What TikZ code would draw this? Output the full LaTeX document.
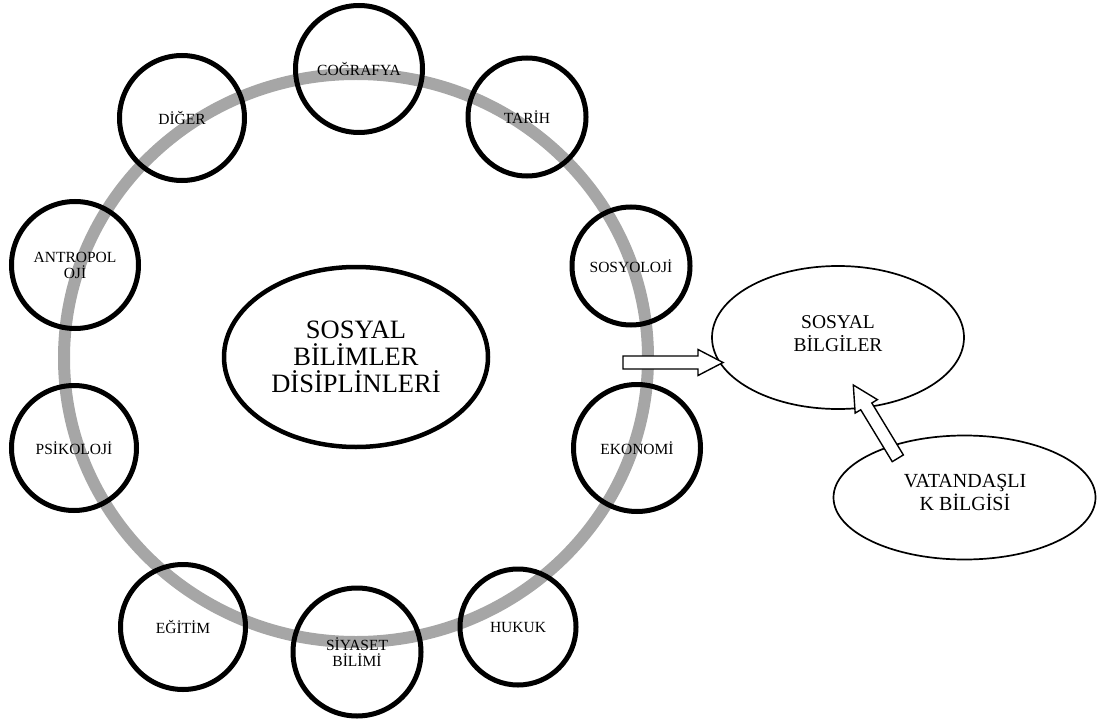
\documentclass[tikz,border=0pt]{standalone}
\usepackage{fontspec}
\setmainfont{Liberation Serif}
\usetikzlibrary{calc,shapes.geometric}
\definecolor{ringgray}{RGB}{166,166,166}

% block arrow from #1 (tail) to #2 (tip)
\newcommand\blkarrow[2]{%
  \coordinate (hb) at ($(#2)!25pt!(#1)$);
  \draw[blockarrow]
    ($(#1)!6.5pt!90:(#2)$) -- ($(hb)!6.5pt!-90:(#1)$) -- ($(hb)!13pt!-90:(#1)$)
    -- (#2) -- ($(hb)!13pt!90:(#1)$) -- ($(hb)!6.5pt!90:(#1)$)
    -- ($(#1)!6.5pt!-90:(#2)$) -- cycle;}

\begin{document}
\begin{tikzpicture}[x=1pt,y=-1pt,
  ring/.style={draw=ringgray, line width=12pt},
  disc/.style={circle, draw, line width=5pt, minimum size=#1, inner sep=0pt,
    align=center, font=\fontsize{15.5}{16}\selectfont},
  core/.style={ellipse, draw, line width=4.5pt, inner sep=0pt, align=center,
    font=\fontsize{26.5}{27}\selectfont},
  oval/.style={ellipse, draw, line width=1.7pt, inner sep=0pt},
  bigtext/.style={align=center, inner sep=0pt, font=\fontsize{20}{23}\selectfont},
  blockarrow/.style={draw, fill=white, line width=1.4pt, line join=miter}]
\useasboundingbox (0,0) rectangle (1097,722);

% grey ring linking the disciplines
\draw[ring] (356,358) ellipse [x radius=292, y radius=284];

% central ellipse
\node[core, minimum width=264, minimum height=180] (core) at (356,357)
  {SOSYAL\\BİLİMLER\\DİSİPLİNLERİ};

% disciplines around the ring
\node[disc=127] (cog) at (359,69)  {COĞRAFYA};
\node[disc=118] (tar) at (527,117) {TARİH};
\node[disc=118] (sos) at (631,266) {SOSYOLOJİ};
\node[disc=127] (eko) at (637,448) {EKONOMİ};
\node[disc=116] (huk) at (518,627) {HUKUK};
\node[disc=128] (siy) at (357,652) {SİYASET\\BİLİMİ};
\node[disc=125] (egi) at (183,627) {EĞİTİM};
\node[disc=125] (psi) at (74,448)  {PSİKOLOJİ};
\node[disc=127] (ant) at (75,265)  {ANTROPOL\\OJİ};
\node[disc=125] (dig) at (182,118) {DİĞER};

% social studies and citizenship
\node[oval, minimum width=252, minimum height=143] (bil) at (838,337.5) {};
\node[bigtext, font=\fontsize{19.5}{23}\selectfont] (biltext) at (838,334) {SOSYAL\\BİLGİLER};
\node[oval, minimum width=262, minimum height=124] (vat) at (964.5,497.5) {};
\node[bigtext] (vattext) at (965,492) {VATANDAŞLI\\K BİLGİSİ};

% block arrows
\coordinate (a1tail) at (623,362.5);
\coordinate (a1tip)  at (723,362.5);
\blkarrow{a1tail}{a1tip}
\coordinate (a2tail) at (897.8,458.3);
\coordinate (a2tip)  at (853.3,385);
\blkarrow{a2tail}{a2tip}
\end{tikzpicture}
\end{document}
